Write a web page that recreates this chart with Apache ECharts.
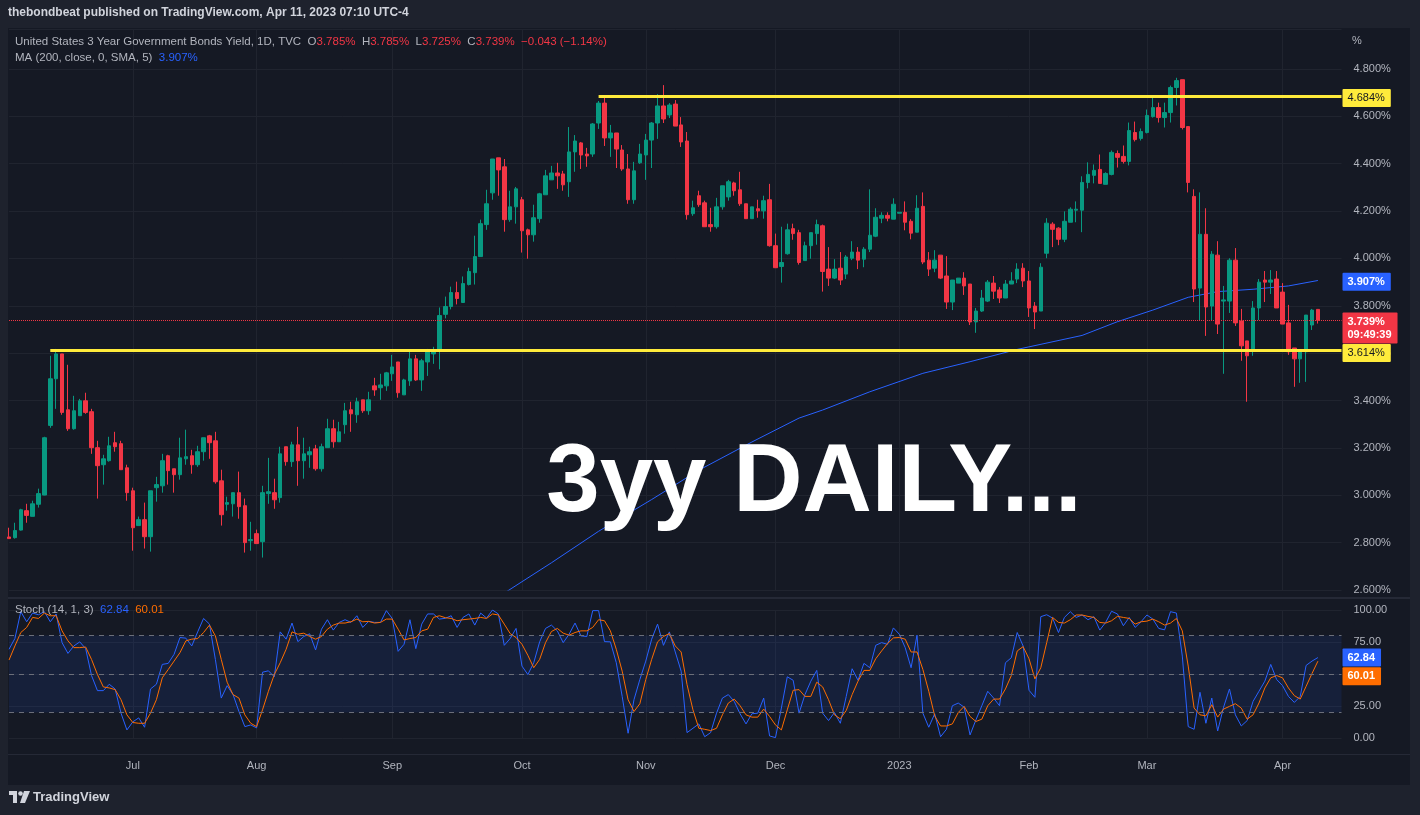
<!DOCTYPE html>
<html>
<head>
<meta charset="utf-8">
<script src="https://cdn.jsdelivr.net/npm/echarts@6.0.0/dist/echarts.min.js"></script>
<style>
html,body{margin:0;padding:0;background:#1e222d;}
#wrap{position:relative;width:1420px;height:815px;background:#1e222d;overflow:hidden;}
#pane{position:absolute;left:8px;top:28px;width:1402px;height:757px;background:#151924;}
#sep1{position:absolute;left:8px;top:597px;width:1402px;height:2px;background:#252936;}
#sep2{position:absolute;left:8px;top:754px;width:1402px;height:1px;background:#252936;}
#c{position:absolute;left:0;top:0;width:1420px;height:815px;}
</style>
</head>
<body>
<div id="wrap">
  <div id="pane"></div>
  <div id="sep1"></div>
  <div id="sep2"></div>
  <div id="c"></div>
</div>
<script>
// ---------- DATA ----------
const opens = [2.824,2.821,2.853,2.935,2.911,2.962,3.001,3.295,3.492,3.597,
3.361,3.281,3.336,3.399,3.353,3.201,3.129,3.146,3.222,3.218,
3.116,3.019,2.872,2.897,2.825,3.032,3.040,3.167,3.112,3.087,
3.154,3.167,3.129,3.184,3.251,3.230,3.061,2.962,2.964,3.011,
2.956,2.808,2.838,2.804,3.007,3.011,2.990,3.205,3.142,3.213,
3.146,3.171,3.196,3.112,3.201,3.281,3.226,3.298,3.361,3.340,
3.403,3.357,3.462,3.454,3.462,3.513,3.563,3.424,3.483,3.576,
3.487,3.563,3.597,3.613,3.764,3.797,3.856,3.814,3.890,3.940,
4.008,4.143,4.277,4.425,4.387,4.164,4.218,4.248,4.121,4.100,
4.168,4.269,4.332,4.361,4.357,4.324,4.450,4.488,4.441,4.441,
4.572,4.656,4.509,4.530,4.458,4.378,4.248,4.404,4.437,4.500,
4.572,4.644,4.606,4.652,4.564,4.496,4.189,4.265,4.235,4.143,
4.134,4.218,4.260,4.319,4.290,4.231,4.168,4.210,4.201,4.248,
4.054,3.966,4.020,4.126,4.109,3.991,4.054,4.105,4.138,3.955,
3.917,3.959,3.934,4.001,4.027,3.997,4.039,4.094,4.170,4.182,
4.166,4.191,4.195,4.157,4.111,4.220,3.993,3.959,4.014,3.926,
3.816,3.896,3.917,3.892,3.732,3.778,3.820,3.896,3.867,3.833,
3.892,3.913,3.959,3.905,3.799,3.778,4.022,4.145,4.128,4.081,
4.153,4.204,4.204,4.321,4.351,4.376,4.313,4.355,4.443,4.431,
4.410,4.532,4.507,4.532,4.599,4.637,4.595,4.616,4.722,4.755,
4.557,4.262,3.875,4.102,3.799,4.014,3.820,3.820,3.993,3.736,
3.652,3.614,3.791,3.909,3.900,3.913,3.858,3.728,3.622,3.576,
3.606,3.719,3.785];
const highs = [2.863,2.884,2.943,2.964,2.977,3.028,3.247,3.589,3.618,3.597,
3.551,3.420,3.407,3.433,3.365,3.230,3.171,3.247,3.268,3.230,
3.129,3.032,2.910,2.969,3.019,3.078,3.175,3.171,3.112,3.243,
3.277,3.192,3.209,3.243,3.255,3.268,3.108,2.994,3.011,3.100,
2.986,2.888,2.855,3.040,3.158,3.070,3.205,3.205,3.226,3.289,
3.243,3.205,3.213,3.218,3.323,3.319,3.310,3.390,3.395,3.412,
3.403,3.437,3.496,3.513,3.521,3.593,3.563,3.492,3.606,3.593,
3.576,3.618,3.627,3.793,3.839,3.881,3.902,3.924,3.961,4.096,
4.164,4.290,4.420,4.425,4.420,4.286,4.302,4.260,4.126,4.227,
4.277,4.374,4.391,4.404,4.370,4.555,4.521,4.492,4.467,4.572,
4.665,4.681,4.564,4.530,4.479,4.441,4.408,4.484,4.526,4.576,
4.694,4.732,4.656,4.669,4.597,4.534,4.244,4.286,4.244,4.214,
4.256,4.307,4.332,4.324,4.366,4.231,4.218,4.248,4.265,4.315,
4.105,4.134,4.147,4.147,4.121,4.071,4.109,4.164,4.143,4.048,
3.997,4.027,4.014,4.073,4.048,4.048,4.292,4.212,4.195,4.195,
4.254,4.195,4.241,4.166,4.267,4.279,4.027,4.035,4.014,4.010,
3.909,3.917,3.942,3.892,3.791,3.867,3.909,3.926,3.879,3.909,
3.942,3.980,3.980,3.947,3.816,3.980,4.170,4.153,4.132,4.199,
4.216,4.241,4.347,4.406,4.397,4.439,4.364,4.456,4.456,4.477,
4.574,4.578,4.549,4.629,4.683,4.658,4.658,4.730,4.763,4.755,
4.557,4.292,4.279,4.212,4.031,4.073,3.884,4.001,4.044,3.787,
3.652,3.820,3.913,3.947,3.951,3.947,3.896,3.804,3.622,3.610,
3.761,3.787,3.785];
const lows = [2.817,2.817,2.851,2.884,2.911,2.948,3.000,3.285,3.365,3.340,
3.272,3.277,3.336,3.344,3.175,2.986,3.045,3.142,3.184,3.108,
2.977,2.766,2.872,2.775,2.762,2.973,3.011,3.045,3.011,3.066,
3.129,3.091,3.120,3.146,3.154,3.049,2.872,2.935,2.910,2.901,
2.758,2.766,2.796,2.737,2.964,2.943,2.969,3.125,3.120,3.040,
3.070,3.116,3.104,3.100,3.201,3.201,3.226,3.260,3.268,3.306,
3.348,3.340,3.420,3.403,3.441,3.483,3.412,3.424,3.462,3.483,
3.441,3.504,3.555,3.532,3.747,3.785,3.806,3.814,3.886,3.890,
4.008,4.121,4.248,4.265,4.113,4.155,4.147,4.025,3.999,4.071,
4.151,4.269,4.332,4.294,4.286,4.260,4.366,4.378,4.387,4.429,
4.547,4.475,4.429,4.382,4.370,4.231,4.231,4.399,4.332,4.382,
4.505,4.572,4.593,4.559,4.471,4.164,4.180,4.218,4.134,4.113,
4.126,4.206,4.244,4.265,4.222,4.168,4.168,4.172,4.168,4.050,
3.961,3.898,4.016,4.079,3.974,3.991,3.999,4.058,3.860,3.884,
3.913,3.888,3.913,3.993,3.955,3.963,4.027,4.090,4.149,4.157,
4.166,4.191,4.119,4.081,4.111,3.976,3.926,3.942,3.913,3.787,
3.782,3.896,3.846,3.719,3.686,3.774,3.816,3.829,3.812,3.833,
3.892,3.896,3.879,3.753,3.702,3.778,4.001,4.048,4.056,4.069,
4.153,4.153,4.111,4.296,4.317,4.317,4.313,4.351,4.384,4.401,
4.393,4.494,4.498,4.528,4.595,4.574,4.553,4.574,4.646,4.545,
4.279,3.816,3.736,3.673,3.740,3.681,3.513,3.770,3.715,3.568,
3.395,3.589,3.740,3.816,3.850,3.791,3.723,3.593,3.458,3.475,
3.479,3.698,3.725];
const closes = [2.817,2.851,2.939,2.915,2.964,3.007,3.243,3.492,3.597,3.350,
3.281,3.357,3.399,3.350,3.201,3.125,3.154,3.209,3.205,3.108,
3.011,2.863,2.897,2.825,3.019,3.045,3.146,3.104,3.087,3.158,
3.163,3.129,3.184,3.243,3.222,3.057,2.918,2.969,3.011,2.952,
2.800,2.813,2.796,3.011,3.015,2.981,3.175,3.142,3.213,3.146,
3.175,3.184,3.112,3.205,3.281,3.226,3.268,3.357,3.344,3.395,
3.357,3.403,3.445,3.466,3.517,3.542,3.433,3.487,3.576,3.487,
3.568,3.606,3.614,3.759,3.797,3.856,3.831,3.894,3.945,4.008,
4.147,4.231,4.420,4.374,4.164,4.218,4.294,4.117,4.100,4.172,
4.273,4.349,4.361,4.349,4.311,4.450,4.496,4.437,4.433,4.568,
4.656,4.509,4.530,4.462,4.378,4.248,4.370,4.441,4.500,4.572,
4.644,4.589,4.648,4.559,4.492,4.185,4.214,4.227,4.134,4.134,
4.218,4.307,4.324,4.286,4.231,4.168,4.218,4.201,4.244,4.054,
3.961,3.983,4.121,4.105,3.983,4.054,4.109,4.143,3.945,3.917,
3.955,3.909,4.006,4.027,3.993,4.039,4.098,4.174,4.182,4.170,
4.229,4.195,4.153,4.107,4.212,3.985,3.955,3.993,3.917,3.816,
3.909,3.917,3.884,3.732,3.778,3.833,3.900,3.862,3.833,3.892,
3.905,3.955,3.905,3.791,3.774,3.963,4.149,4.123,4.081,4.157,
4.208,4.208,4.321,4.355,4.372,4.317,4.359,4.448,4.427,4.410,
4.540,4.502,4.536,4.604,4.637,4.595,4.616,4.722,4.751,4.553,
4.321,3.871,4.102,3.795,4.018,3.723,3.825,3.993,3.728,3.631,
3.589,3.791,3.900,3.900,3.909,3.791,3.723,3.606,3.576,3.610,
3.761,3.782,3.739];

// MA(200) read at points along the drawn line (bar index, value)
const maIdx = [84,92,100,109,117,126,134,138,146,155,163,171,182,188,194,200,205,211,217,222];
const maVal = [2.587,2.715,2.848,2.982,3.106,3.225,3.326,3.360,3.437,3.515,3.564,3.616,3.675,3.733,3.782,3.836,3.860,3.870,3.884,3.907];

// Stochastic (14,1,3): %K and %D
const stochK = [69.3,77.7,98.7,90.8,97.6,96.3,98.7,90.8,96.9,74.5,
66.1,71.9,75.1,69.8,48.8,37.0,37.0,42.0,38.3,19.4,
6.3,12.6,15.7,8.4,38.3,42.0,57.5,58.3,65.4,78.5,
78.0,71.9,82.9,93.4,89.0,61.4,31.2,40.9,33.9,20.7,
8.9,10.2,7.9,51.4,52.5,47.8,82.9,77.2,89.8,75.3,
79.3,81.4,68.8,85.0,92.4,84.3,90.3,92.4,90.3,95.5,
86.4,91.1,90.3,90.3,99.5,93.4,67.7,73.2,92.4,69.8,
89.0,96.9,96.9,92.9,93.5,95.5,86.4,94.2,96.9,88.2,
97.6,93.7,100,96.9,72.4,77.7,85.6,56.2,49.6,58.8,
75.1,85.6,88.2,83.7,74.5,81.1,89.8,79.8,79.3,99.5,
99.5,75.3,75.1,58.8,32.5,3.7,29.9,45.7,60.1,77.2,
89.0,72.4,82.9,67.2,52.2,4.2,7.6,11.0,1.0,4.2,
19.4,31.2,33.9,28.6,18.9,11.0,18.9,19.4,31.2,1.6,
0.3,23.4,47.8,45.1,19.4,33.9,44.4,52.8,19.4,13.6,
19.9,11.5,32.5,54.1,45.1,58.3,54.9,72.4,74.5,73.2,
86.0,81.1,70.6,54.9,80.3,19.4,8.4,18.9,1.0,6.8,
25.2,27.3,24.1,2.4,14.2,25.2,36.5,31.2,25.2,58.8,
62.7,82.4,71.9,37.3,31.8,94.8,96.3,93.7,82.4,94.2,
98.7,94.2,96.1,92.4,94.8,84.3,90.3,99.0,96.9,87.7,
94.2,86.4,90.8,96.1,92.9,85.6,84.5,98.7,97.6,64.0,
8.9,6.8,35.7,11.5,31.2,5.5,24.1,38.3,18.1,9.4,
13.6,28.6,36.5,44.4,57.5,45.7,40.9,32.5,27.8,32.5,
56.7,60.1,62.84];
const stochD = [60.9,71.9,82.4,86.4,94.2,93.4,97.6,95.5,95.5,83.7,
75.9,70.6,70.6,71.1,61.4,49.6,39.9,39.1,37.8,29.9,
18.1,12.1,11.5,11.5,19.4,29.9,47.0,53.5,60.1,66.7,
75.9,77.2,77.7,82.4,88.2,79.8,61.4,43.6,33.9,31.2,
18.1,11.5,8.9,22.0,36.5,49.6,58.8,69.3,82.9,81.1,
81.9,79.3,77.2,79.3,85.0,88.2,89.8,89.8,90.8,92.9,
90.8,91.1,89.8,90.3,92.9,92.9,85.0,76.6,77.7,78.5,
83.7,85.0,94.2,95.5,94.0,93.4,91.6,92.4,92.9,93.4,
94.2,93.4,96.9,96.1,89.0,81.6,78.5,73.2,64.6,54.9,
61.4,74.5,83.2,85.6,81.9,80.3,82.4,83.7,83.7,86.4,
92.4,91.6,83.7,69.3,52.2,29.9,20.7,26.8,45.7,61.4,
75.1,79.3,81.6,71.9,67.2,41.7,22.0,7.6,6.8,5.8,
7.6,18.1,27.3,30.4,25.2,18.1,16.3,16.3,22.6,16.8,
10.2,6.3,22.0,37.3,37.8,32.5,32.5,43.6,39.9,29.9,
18.1,15.0,21.5,33.9,44.4,52.8,52.8,61.9,68.0,73.8,
78.2,78.5,77.2,67.2,67.2,53.5,36.5,17.3,9.4,9.4,
11.0,19.9,24.7,16.8,12.9,14.7,25.2,30.4,30.4,38.3,
48.8,68.0,71.4,61.9,46.2,54.9,74.5,94.2,90.3,89.8,
92.4,96.1,96.1,95.0,94.2,90.3,89.8,91.6,95.0,94.2,
93.4,89.0,90.8,91.3,92.9,90.8,88.2,89.8,93.4,83.7,
56.2,23.4,18.1,17.3,26.0,16.3,22.6,24.7,26.8,23.4,
14.7,18.1,27.3,39.1,47.0,48.8,47.0,39.1,33.1,30.4,
40.4,50.4,60.01];

// horizontal levels drawn by the author
const levelValues = [4.684, 3.614];
const levelStartIdx = [100, 7];

// time axis
const monthLabels = ['Jul','Aug','Sep','Oct','Nov','Dec','2023','Feb','Mar','Apr'];
const monthIdx = [21,42,65,87,108,130,151,173,193,216];

// price / stochastic axis ticks
const priceTicks = {min: 2.6, max: 4.969, step: 0.2};
const stochTicks = {min: 0, max: 100, step: 25};
const stochBands = [20, 50, 80];

// ---------- CHART ----------
const UP = '#089981', DOWN = '#f23645', BLUE = '#2962ff', ORANGE = '#ff6d00', YELLOW = '#ffeb3b';
const TXT = '#b2b5be', GRID = '#20242f';
const FONT = '"Liberation Sans", Arial, sans-serif';
const NOLINE = {color: 'rgba(0,0,0,0)', width: 0};

const N = opens.length;
const lastCat = N + 3;
const cats = Array.from({length: lastCat + 1}, (_, i) => String(i));
const monthMap = {};
monthIdx.forEach((m, k) => { monthMap[m] = monthLabels[k]; });
const isMonth = (i) => Object.prototype.hasOwnProperty.call(monthMap, i);

const lastO = opens[N-1], lastH = highs[N-1], lastL = lows[N-1], lastC = closes[N-1];
const chg = lastC - closes[N-2];
const pct = chg / closes[N-2] * 100;
const sgn = (v, d) => (v < 0 ? '\u2212' : '+') + Math.abs(v).toFixed(d);
const lastMA = maVal[maVal.length - 1];

const candleData = opens.map((o, i) => [o, closes[i], lows[i], highs[i]]);

function badge(text, bg, fg, bold, dy) {
  return {show: true, position: 'end', distance: 1, formatter: text, backgroundColor: bg,
    color: fg, fontSize: 11, fontFamily: FONT, fontWeight: bold ? 'bold' : 'normal',
    padding: [3, 6, 2, 5], lineHeight: 13, borderRadius: 1, offset: [0, dy || 0]};
}

const levelLines = levelValues.map((v, k) => [
  {coord: [levelStartIdx[k], v], lineStyle: {color: YELLOW, width: 3, type: 'solid'},
   label: badge(v.toFixed(3) + '%', YELLOW, '#131722', false, k === 0 ? 1.5 : 3)},
  {coord: [lastCat, v]}
]);

const xBase = (gi, showLabel) => ({
  type: 'category', gridIndex: gi, data: cats, boundaryGap: false,
  axisLine: {show: false}, axisTick: {show: false},
  axisLabel: showLabel ? {
    show: true, interval: (i) => isMonth(i), formatter: (v) => monthMap[+v] || '',
    color: TXT, fontSize: 11, fontFamily: FONT, margin: 22
  } : {show: false},
  splitLine: {show: true, interval: (i) => isMonth(i), lineStyle: {color: GRID, width: 1}}
});

const option = {
  backgroundColor: 'transparent',
  animation: false,
  grid: [
    {left: 9, right: 78.5, top: 29, height: 561},
    {left: 9, right: 78.5, top: 610, height: 128}
  ],
  xAxis: [xBase(0, false), xBase(1, true)],
  yAxis: [
    {type: 'value', gridIndex: 0, position: 'right', min: priceTicks.min, max: priceTicks.max,
     interval: priceTicks.step,
     axisLine: {show: false}, axisTick: {show: false},
     axisLabel: {color: TXT, fontSize: 11, fontFamily: FONT, margin: 12, showMaxLabel: false,
       formatter: (v) => v.toFixed(3) + '%'},
     splitLine: {lineStyle: {color: GRID}}},
    {type: 'value', gridIndex: 1, position: 'right', min: stochTicks.min, max: stochTicks.max,
     interval: stochTicks.step,
     axisLine: {show: false}, axisTick: {show: false},
     axisLabel: {color: TXT, fontSize: 11, fontFamily: FONT, margin: 12,
       formatter: (v) => v.toFixed(2)},
     splitLine: {lineStyle: {color: GRID}}}
  ],
  series: [
    {
      type: 'candlestick', xAxisIndex: 0, yAxisIndex: 0, data: candleData, barWidth: 4,
      itemStyle: {color: UP, color0: DOWN, borderColor: UP, borderColor0: DOWN, borderWidth: 1},
      markLine: {
        silent: true, symbol: ['none', 'none'], animation: false,
        data: [
          {yAxis: lastC, lineStyle: {color: DOWN, type: 'dotted', width: 1},
           label: badge(lastC.toFixed(3) + '%\n09:49:39', DOWN, '#ffffff', true, 8)},
          ...levelLines
        ]
      },
      z: 3
    },
    {
      type: 'line', xAxisIndex: 0, yAxisIndex: 0,
      data: maIdx.map((x, k) => [x, maVal[k]]),
      symbol: 'none', lineStyle: {color: BLUE, width: 1}, z: 2,
      markLine: {silent: true, symbol: ['none', 'none'], animation: false,
        data: [{yAxis: lastMA, lineStyle: NOLINE, label: badge(lastMA.toFixed(3) + '%', BLUE, '#ffffff', true, 2)}]}
    },
    {
      type: 'line', xAxisIndex: 1, yAxisIndex: 1, data: stochK,
      symbol: 'none', lineStyle: {color: BLUE, width: 1}, z: 3,
      markArea: {silent: true, itemStyle: {color: 'rgba(41,98,255,0.10)'},
        data: [[{yAxis: stochBands[0]}, {yAxis: stochBands[2]}]]},
      markLine: {silent: true, symbol: ['none', 'none'], animation: false,
        data: [
          ...stochBands.map(b => ({yAxis: b, lineStyle: {color: '#6b6e79', type: [5, 5], width: 1}, label: {show: false}})),
          {yAxis: stochK[N-1], lineStyle: NOLINE, label: badge(stochK[N-1].toFixed(2), BLUE, '#ffffff', true, 0)}
        ]}
    },
    {
      type: 'line', xAxisIndex: 1, yAxisIndex: 1, data: stochD,
      symbol: 'none', lineStyle: {color: ORANGE, width: 1}, z: 4,
      markLine: {silent: true, symbol: ['none', 'none'], animation: false,
        data: [{yAxis: stochD[N-1], lineStyle: NOLINE, label: badge(stochD[N-1].toFixed(2), ORANGE, '#ffffff', true, 15)}]}
    }
  ],
  graphic: [
    {type: 'text', x: 8, y: 13, z: 50, style: {
      text: 'thebondbeat published on TradingView.com, Apr 11, 2023 07:10 UTC-4',
      fill: '#d1d4dc', font: 'bold 12px ' + FONT, verticalAlign: 'middle'}},
    {type: 'text', x: 15, y: 42, z: 50, style: {
      text: '{g|United States 3 Year Government Bonds Yield, 1D, TVC  O}{r|' + lastO.toFixed(3) + '%}{g|  H}{r|' +
        lastH.toFixed(3) + '%}{g|  L}{r|' + lastL.toFixed(3) + '%}{g|  C}{r|' + lastC.toFixed(3) + '%}{r|  ' +
        sgn(chg, 3) + ' (' + sgn(pct, 2) + '%)}',
      verticalAlign: 'middle',
      rich: {g: {fill: TXT, fontSize: 11.5, fontFamily: FONT}, r: {fill: DOWN, fontSize: 11.5, fontFamily: FONT}}}},
    {type: 'text', x: 15, y: 58, z: 50, style: {
      text: '{g|MA (200, close, 0, SMA, 5)  }{b|' + lastMA.toFixed(3) + '%}',
      verticalAlign: 'middle',
      rich: {g: {fill: TXT, fontSize: 11.5, fontFamily: FONT}, b: {fill: BLUE, fontSize: 11.5, fontFamily: FONT}}}},
    {type: 'text', x: 1352, y: 41, z: 50, style: {text: '%', fill: TXT, font: '11px ' + FONT, verticalAlign: 'middle'}},
    {type: 'text', x: 15, y: 610, z: 50, style: {
      text: '{g|Stoch (14, 1, 3)  }{b|' + stochK[N-1].toFixed(2) + '}{g|  }{o|' + stochD[N-1].toFixed(2) + '}',
      verticalAlign: 'middle',
      rich: {g: {fill: TXT, fontSize: 11.5, fontFamily: FONT}, b: {fill: BLUE, fontSize: 11.5, fontFamily: FONT},
             o: {fill: ORANGE, fontSize: 11.5, fontFamily: FONT}}}},
    {type: 'text', x: 814, y: 485, z: 100, style: {
      text: '3yy DAILY...', fill: '#ffffff', font: 'bold 96px ' + FONT, align: 'center', verticalAlign: 'middle'}},
    // TradingView footer logo
    {type: 'group', x: 9, y: 791, z: 50, children: [
      {type: 'rect', shape: {x: 0, y: 0, width: 8, height: 4}, style: {fill: '#d1d4dc'}},
      {type: 'rect', shape: {x: 4, y: 0, width: 4, height: 12}, style: {fill: '#d1d4dc'}},
      {type: 'circle', shape: {cx: 11.5, cy: 2.5, r: 2.3}, style: {fill: '#d1d4dc'}},
      {type: 'polygon', shape: {points: [[15, 0], [21, 0], [16, 12], [11, 12]]}, style: {fill: '#d1d4dc'}}
    ]},
    {type: 'text', x: 33, y: 797, z: 50, style: {
      text: 'TradingView', fill: '#d1d4dc', font: '600 13px ' + FONT, verticalAlign: 'middle'}}
  ]
};

const chart = echarts.init(document.getElementById('c'), null, {renderer: 'canvas', width: 1420, height: 815});
chart.setOption(option);
</script>
</body>
</html>
